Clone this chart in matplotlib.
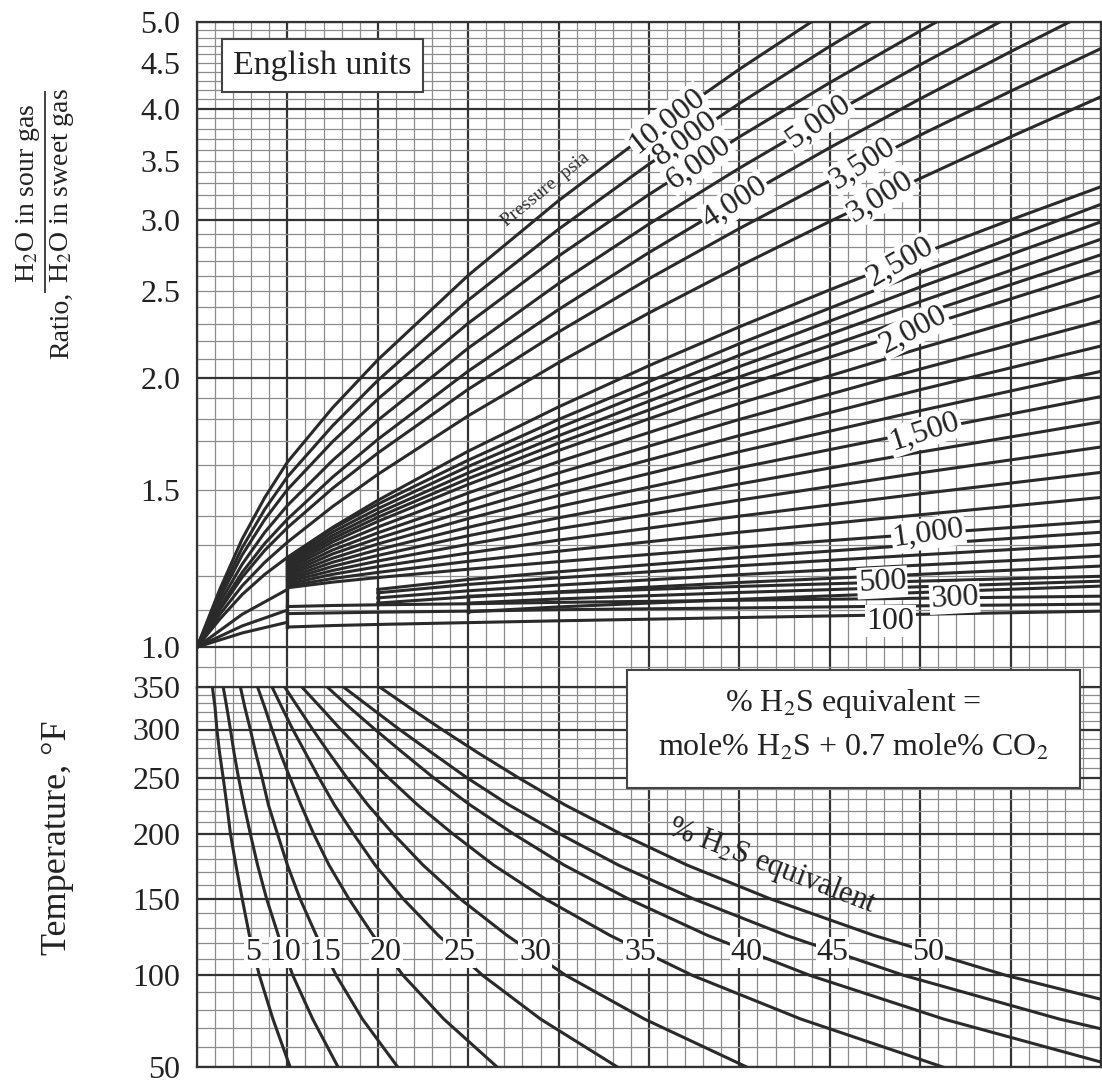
import numpy as np
import matplotlib.pyplot as plt
from matplotlib.patches import Rectangle
from matplotlib.lines import Line2D

plt.rcParams['font.family'] = ['Liberation Serif', 'DejaVu Serif']
plt.rcParams['mathtext.fontset'] = 'stix'

# ---------------- upper chart: water content ratio ----------------
# lines that fan out of the origin: 10,000 8,000 6,000 5,000 4,000 3,500 3,000 2,500 psia
origin_x = [0, 0.25, 0.5, 0.75, 1, 1.5, 2, 3, 4, 5, 6, 7, 8, 9, 10]
origin_r = [
    [1, 1.159, 1.321, 1.470, 1.61, 1.852, 2.095, 2.604, 3.157, 3.761, 4.428, 5.16, 5.97, 6.86, 7.84],
    [1, 1.146, 1.292, 1.426, 1.55, 1.768, 1.987, 2.443, 2.933, 3.468, 4.054, 4.697, 5.401, 6.17, 7.02],
    [1, 1.134, 1.268, 1.389, 1.50, 1.697, 1.894, 2.302, 2.737, 3.207, 3.720, 4.277, 4.886, 5.55, 6.27],
    [1, 1.120, 1.238, 1.344, 1.44, 1.617, 1.793, 2.159, 2.550, 2.972, 3.432, 3.933, 4.479, 5.075, 5.73],
    [1, 1.107, 1.212, 1.306, 1.39, 1.549, 1.707, 2.035, 2.385, 2.762, 3.171, 3.618, 4.103, 4.632, 5.21],
    [1, 1.100, 1.197, 1.283, 1.36, 1.505, 1.648, 1.942, 2.251, 2.582, 2.938, 3.323, 3.737, 4.184, 4.670],
    [1, 1.087, 1.171, 1.244, 1.31, 1.436, 1.560, 1.814, 2.080, 2.364, 2.667, 2.992, 3.342, 3.720, 4.125],
    [1, 1.074, 1.145, 1.206, 1.26, 1.361, 1.459, 1.656, 1.856, 2.064, 2.281, 2.509, 2.750, 3.004, 3.272],
]
short_x = [0, 0.5, 1]
short_r = [[1, 1.088, 1.16], [1, 1.056, 1.10], [1, 1.037, 1.066]]

# lines leaving the step at x = 1: 2,400 ... 1,000 then 300, 200, 100 psia
step1_x = [1, 1.5, 2, 3, 4, 6, 8, 10]
step1_r = [
    [1.255, 1.357, 1.445, 1.618, 1.797, 2.184, 2.623, 3.127],
    [1.248, 1.345, 1.428, 1.592, 1.759, 2.120, 2.527, 2.989],
    [1.241, 1.333, 1.412, 1.566, 1.723, 2.059, 2.434, 2.858],
    [1.235, 1.322, 1.397, 1.543, 1.691, 2.005, 2.354, 2.746],
    [1.228, 1.311, 1.382, 1.520, 1.659, 1.953, 2.277, 2.638],
    [1.222, 1.298, 1.362, 1.487, 1.612, 1.873, 2.158, 2.472],
    [1.215, 1.284, 1.342, 1.454, 1.566, 1.797, 2.046, 2.316],
    [1.208, 1.271, 1.323, 1.422, 1.521, 1.724, 1.940, 2.171],
    [1.202, 1.257, 1.304, 1.392, 1.478, 1.654, 1.838, 2.034],
    [1.195, 1.244, 1.285, 1.361, 1.436, 1.587, 1.742, 1.906],
    [1.189, 1.231, 1.266, 1.332, 1.395, 1.522, 1.652, 1.786],
    [1.183, 1.218, 1.248, 1.303, 1.356, 1.460, 1.566, 1.674],
    [1.176, 1.206, 1.230, 1.274, 1.317, 1.401, 1.484, 1.568],
    [1.170, 1.193, 1.212, 1.247, 1.280, 1.344, 1.406, 1.470],
    [1.165, 1.182, 1.196, 1.222, 1.246, 1.293, 1.338, 1.383],
    [1.110, 1.113, 1.115, 1.118, 1.122, 1.128, 1.134, 1.140],
    [1.090, 1.092, 1.094, 1.097, 1.101, 1.106, 1.112, 1.117],
    [1.053, 1.057, 1.060, 1.065, 1.070, 1.079, 1.088, 1.097],
]
# lines leaving the step at x = 2: 900, 800, 700, 600 psia
step2_x = [2, 3, 4, 6, 8, 10]
step2_r = [
    [1.160, 1.190, 1.214, 1.259, 1.302, 1.344],
    [1.150, 1.175, 1.195, 1.233, 1.268, 1.303],
    [1.135, 1.156, 1.173, 1.205, 1.235, 1.264],
    [1.120, 1.138, 1.153, 1.181, 1.206, 1.232],
]
# lines leaving the step at x = 3: 500, 450, 400 psia
step3_x = [3, 4, 6, 8, 10]
step3_r = [
    [1.140, 1.151, 1.169, 1.185, 1.200],
    [1.120, 1.132, 1.151, 1.168, 1.185],
    [1.095, 1.109, 1.131, 1.151, 1.170],
]
wall_x = [1, 2, 3]
wall_lo = [1.053, 1.12, 1.095]
wall_hi = [1.262, 1.16, 1.14]

pressure_labels = ['10,000', '8,000', '6,000', '5,000', '4,000', '3,500', '3,000',
                   '2,500', '2,000', '1,500', '1,000', '500', '300', '100']
pressure_lx = [5.2, 5.4, 5.55, 6.87, 5.95, 7.36, 7.56, 7.78, 7.92, 8.05, 8.09, 7.58, 8.38, 7.67]
pressure_lr = [3.88, 3.70, 3.48, 3.87, 3.14, 3.467, 3.183, 2.695, 2.263, 1.74, 1.34, 1.181, 1.135, 1.069]
pressure_rot = [38, 36, 35, 35, 33, 33, 32, 30, 28, 18, 8, 3, 3, 0]

ratio_ticks = [1.0, 1.5, 2.0, 2.5, 3.0, 3.5, 4.0, 4.5, 5.0]

# ---------------- lower chart: temperature vs % H2S equivalent ----------------
temp_levels = [350, 325, 300, 275, 250, 225, 200, 175, 150, 125, 100, 75, 50]
h2s_pct = [5, 10, 15, 20, 25, 30, 35, 40, 45, 50]
h2s_x = [
    [0.17, 0.20, 0.22, 0.25, 0.29, 0.33, 0.37, 0.43, 0.50, 0.58, 0.69, 0.84, 1.03],
    [0.29, 0.33, 0.37, 0.41, 0.46, 0.52, 0.59, 0.67, 0.77, 0.90, 1.06, 1.28, 1.56],
    [0.48, 0.53, 0.59, 0.65, 0.72, 0.79, 0.89, 1.00, 1.14, 1.32, 1.54, 1.83, 2.22],
    [0.67, 0.75, 0.83, 0.92, 1.03, 1.15, 1.29, 1.46, 1.68, 1.95, 2.28, 2.73, 3.32],
    [0.83, 0.94, 1.06, 1.20, 1.35, 1.52, 1.73, 1.97, 2.28, 2.67, 3.16, 3.80, 4.65],
    [0.97, 1.12, 1.28, 1.46, 1.66, 1.89, 2.17, 2.50, 2.91, 3.43, 4.08, 4.95, 6.08],
    [1.16, 1.37, 1.59, 1.84, 2.12, 2.44, 2.83, 3.28, 3.85, 4.57, 5.48, 6.68, 8.25],
    [1.44, 1.69, 1.97, 2.28, 2.62, 3.02, 3.50, 4.06, 4.77, 5.65, 6.78, 8.26, 10.2],
    [1.62, 1.92, 2.24, 2.60, 2.99, 3.45, 4.01, 4.66, 5.49, 6.52, 7.82, 9.54, 11.8],
    [2.02, 2.35, 2.71, 3.11, 3.56, 4.07, 4.69, 5.42, 6.34, 7.49, 8.95, 10.87, 13.4],
]
h2s_label_x = [0.62, 0.98, 1.42, 2.09, 2.90, 3.74, 4.90, 6.08, 7.03, 8.09]
h2s_label_t = 114
temp_ticks = [50, 100, 150, 200, 250, 300, 350]

ink = '#2a2a2a'
major_c = '#333333'
minor_c = '#8c8c8c'

fig = plt.figure(figsize=(11.02, 10.86), dpi=100)
W, H = 1102.0, 1086.0
ax1 = fig.add_axes([197 / W, 1 - 688 / H, 904 / W, 666 / H])
ax2 = fig.add_axes([197 / W, 1 - 1067 / H, 904 / W, 380 / H])


def fwd(t):
    return -1.0 / (np.asarray(t, dtype=float) + 460.0)


def inv(u):
    return -1.0 / np.asarray(u, dtype=float) - 460.0


ax1.set_yscale('log')
ax1.set_xlim(0, 10)
ax1.set_ylim(0.9, 5.0)
ax2.set_yscale('function', functions=(fwd, inv))
ax2.set_xlim(0, 10)
ax2.set_ylim(50, 350)

# grid
for ax in (ax1, ax2):
    for v in np.arange(0, 10.01, 0.2):
        major = abs(v - round(v)) < 1e-6
        ax.axvline(v, color=major_c if major else minor_c, lw=1.6 if major else 0.9, zorder=1)
    for s in ax.spines.values():
        s.set_color(major_c)
        s.set_linewidth(1.6)
    ax.tick_params(length=0, labelsize=23, pad=12, colors='#222222')
    ax.set_xticks([])

for v in list(np.arange(1.0, 5.01, 0.1)) + [0.95]:
    major = abs(v - round(v)) < 1e-6
    ax1.axhline(v, color=major_c if major else minor_c, lw=1.6 if major else 0.9, zorder=1)
for v in range(50, 351, 10):
    major = v % 50 == 0
    ax2.axhline(v, color=major_c if major else minor_c, lw=1.6 if major else 0.9, zorder=1)

ax1.yaxis.set_minor_locator(plt.NullLocator())
ax1.set_yticks(ratio_ticks)
ax1.set_yticklabels(['%.1f' % t for t in ratio_ticks])
ax1.yaxis.set_minor_formatter(plt.NullFormatter())
ax2.set_yticks(temp_ticks)
ax2.set_yticklabels([str(t) for t in temp_ticks])
ax2.yaxis.set_minor_locator(plt.NullLocator())

# upper curves
for r in origin_r:
    ax1.plot(origin_x, r, color=ink, lw=2.2, zorder=3)
for r in short_r:
    ax1.plot(short_x, r, color=ink, lw=2.2, zorder=3)
for xs, group in ((step1_x, step1_r), (step2_x, step2_r), (step3_x, step3_r)):
    for r in group:
        ax1.plot(xs, r, color=ink, lw=2.2, zorder=3)
for x, lo, hi in zip(wall_x, wall_lo, wall_hi):
    ax1.plot([x, x], [lo, hi], color=ink, lw=2.4, zorder=3)

for t, x, r, rot in zip(pressure_labels, pressure_lx, pressure_lr, pressure_rot):
    ax1.text(x, r, t, fontsize=23, rotation=rot, rotation_mode='anchor', ha='center',
             va='center', color='#222222', zorder=5,
             bbox=dict(facecolor='white', edgecolor='none', pad=1.0))

ax1.text(3.85, 3.25, 'Pressure, psia', fontsize=14, rotation=39, rotation_mode='anchor',
         ha='center', va='center', color='#333333', zorder=5)

ax1.text(0.139, 0.934, 'English units', transform=ax1.transAxes, fontsize=24.5,
         ha='center', va='center', color='#222222', zorder=6,
         bbox=dict(boxstyle='square,pad=0.33', facecolor='white', edgecolor='#444444', lw=1.5))

# lower curves
for xs in h2s_x:
    ax2.plot(xs, temp_levels, color=ink, lw=2.2, zorder=3)
for p, x in zip(h2s_pct, h2s_label_x):
    ax2.text(x, h2s_label_t, str(p), fontsize=23, ha='center', va='center', color='#222222',
             zorder=5, bbox=dict(facecolor='white', edgecolor='none', pad=0.5))

ax2.text(6.36, 174, '% H$_2$S equivalent', fontsize=22, rotation=-21, rotation_mode='anchor',
         ha='center', va='center', color='#222222', zorder=5)

# formula box
fig.add_artist(Rectangle((627 / W, 1 - 788 / H), 453 / W, 118 / H, transform=fig.transFigure,
                         facecolor='white', edgecolor='#444444', lw=1.5, zorder=10))
fig.text(853 / W, 1 - 704 / H, '% H$_2$S equivalent =', fontsize=23, ha='center', va='center',
         color='#222222', zorder=11)
fig.text(853 / W, 1 - 748 / H, 'mole% H$_2$S + 0.7 mole% CO$_2$', fontsize=23, ha='center',
         va='center', color='#222222', zorder=11)

# axis titles
fig.text(28 / W, 1 - 193 / H, 'H$_2$O in sour gas', fontsize=20, rotation=90, ha='center',
         va='center', color='#222222')
fig.text(62 / W, 1 - 186 / H, 'H$_2$O in sweet gas', fontsize=20, rotation=90, ha='center',
         va='center', color='#222222')
fig.text(62 / W, 1 - 325 / H, 'Ratio,', fontsize=20, rotation=90, ha='center',
         va='center', color='#222222')
fig.add_artist(Line2D([45 / W, 45 / W], [1 - 292 / H, 1 - 92 / H], transform=fig.transFigure,
                      color='#333333', lw=1.3))
fig.text(57 / W, 1 - 838 / H, 'Temperature, °F', fontsize=26, rotation=90, ha='center',
         va='center', color='#222222')

fig.savefig('out.png', dpi=100, facecolor='white')
